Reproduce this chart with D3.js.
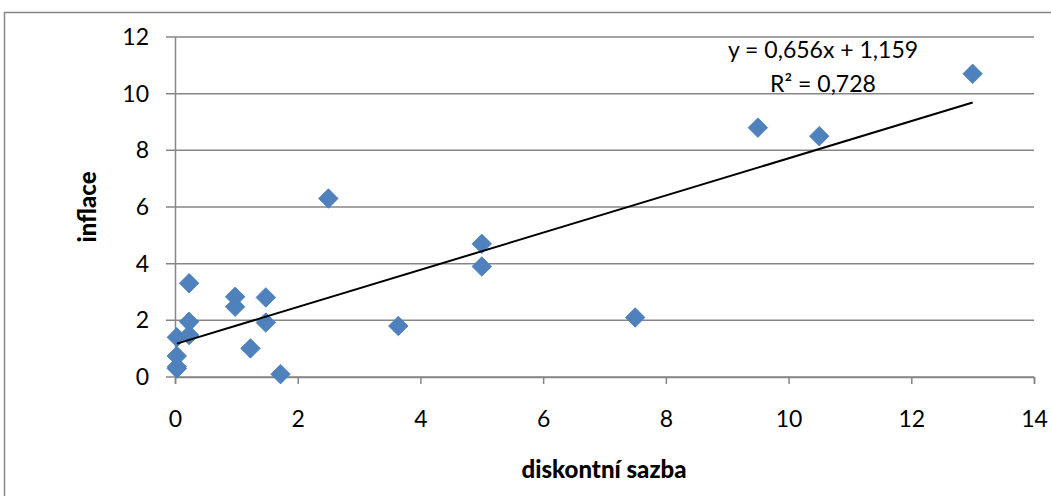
<!DOCTYPE html>
<meta charset="utf-8">
<style>
  body { margin: 0; background: #fff; }
  svg { display: block; }
  .tick text { font-family: Lato, "Noto Sans", sans-serif; font-size: 23px; fill: #000; }
  .title { font-family: Lato, "Noto Sans", sans-serif; font-size: 24px; font-weight: 900; }
  .trend { font-family: Lato, "Noto Sans", sans-serif; font-size: 23px; }
</style>
<body>
<svg width="1051" height="496"></svg>
<script src="https://cdn.jsdelivr.net/npm/d3@7"></script>
<script>

// diskontni sazba (x) vs inflace (y)
var rate      = [0.03, 0.03, 0.03, 0.03, 0.23, 0.23, 0.23, 0.98, 0.98, 1.23, 1.48, 1.48, 1.72, 2.5, 3.64, 5, 5, 7.5, 9.5, 10.5, 13];
var inflation = [0.3, 0.36, 0.74, 1.4, 3.31, 1.95, 1.48, 2.83, 2.48, 1.01, 2.81, 1.92, 0.1, 6.3, 1.8, 4.7, 3.9, 2.1, 8.8, 8.5, 10.7];

var xTicks = [0, 2, 4, 6, 8, 10, 12, 14];
var yTicks = [0, 2, 4, 6, 8, 10, 12];

var slope = 0.656, intercept = 1.159;
var trendLabels = ["y = 0,656x + 1,159", "R\u00b2 = 0,728"];

var svg = d3.select("svg");
var grey = "#868686";

// chart frame
svg.append("rect")
    .attr("x", 4.5).attr("y", 12.5)
    .attr("width", 1100).attr("height", 600)
    .attr("fill", "none").attr("stroke", grey).attr("stroke-width", 1.5);

var x = d3.scaleLinear().domain([0, 14]).range([175, 1034]);
var y = d3.scaleLinear().domain([0, 12]).range([377, 37]);

// horizontal gridlines
svg.append("g").selectAll("line")
    .data(yTicks)
  .enter().append("line")
    .attr("x1", 166).attr("x2", 1034)
    .attr("y1", function(d) { return y(d); })
    .attr("y2", function(d) { return y(d); })
    .attr("stroke", grey).attr("stroke-width", 1.5);

var yAxis = svg.append("g")
    .attr("transform", "translate(175,0)")
    .call(d3.axisLeft(y).tickValues(yTicks).tickSize(0).tickPadding(26));
yAxis.select(".domain").attr("stroke", grey).attr("stroke-width", 1.5);

var xAxis = svg.append("g")
    .attr("transform", "translate(0,377)")
    .call(d3.axisBottom(x).tickValues(xTicks).tickSize(7).tickPadding(27));
xAxis.select(".domain").attr("stroke", grey).attr("stroke-width", 1.5);
xAxis.selectAll(".tick line").attr("stroke", grey).attr("stroke-width", 1.5);

// points
var diamond = d3.symbol().type(d3.symbolSquare).size(190);
svg.append("g").selectAll("path")
    .data(rate)
  .enter().append("path")
    .attr("d", diamond)
    .attr("transform", function(d, i) {
      return "translate(" + x(d) + "," + y(inflation[i]) + ") rotate(45)";
    })
    .attr("fill", "#4f81bd")
    .attr("stroke", "#4a7ebb").attr("stroke-width", 0.8);

// linear trendline
var xMin = d3.min(rate), xMax = d3.max(rate);
svg.append("line")
    .attr("x1", x(xMin)).attr("y1", y(slope * xMin + intercept))
    .attr("x2", x(xMax)).attr("y2", y(slope * xMax + intercept))
    .attr("stroke", "#000").attr("stroke-width", 2);

svg.append("g").selectAll("text")
    .data(trendLabels)
  .enter().append("text")
    .attr("class", "trend")
    .attr("x", 823)
    .attr("y", function(d, i) { return 58 + i * 34; })
    .attr("text-anchor", "middle")
    .text(function(d) { return d; });

// axis titles
svg.append("text")
    .attr("class", "title")
    .attr("transform", "translate(96,207) rotate(-90)")
    .attr("text-anchor", "middle")
    .text("inflace");

svg.append("text")
    .attr("class", "title")
    .attr("x", 604).attr("y", 478)
    .attr("text-anchor", "middle")
    .text("diskontní sazba");

</script>
</body>
